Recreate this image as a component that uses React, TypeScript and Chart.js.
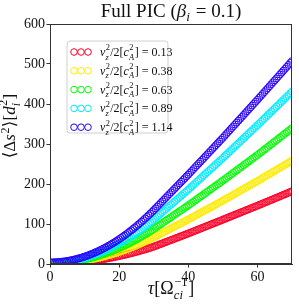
import React, { useEffect, useRef } from "react";
import { Chart, registerables } from "chart.js";

Chart.register(...registerables);

// sample times tau [1/Omega_ci]
const tau = [
  0, 0.5, 1, 1.5, 2, 2.5, 3, 3.5, 4, 4.5, 5, 5.5, 6, 6.5, 7, 7.5, 8, 8.5, 9, 9.5,
  10, 10.5, 11, 11.5, 12, 12.5, 13, 13.5, 14, 14.5, 15, 15.5, 16, 16.5, 17, 17.5, 18, 18.5, 19, 19.5,
  20, 20.5, 21, 21.5, 22, 22.5, 23, 23.5, 24, 24.5, 25, 25.5, 26, 26.5, 27, 27.5, 28, 28.5, 29, 29.5,
  30, 30.5, 31, 31.5, 32, 32.5, 33, 33.5, 34, 34.5, 35, 35.5, 36, 36.5, 37, 37.5, 38, 38.5, 39, 39.5,
  40, 40.5, 41, 41.5, 42, 42.5, 43, 43.5, 44, 44.5, 45, 45.5, 46, 46.5, 47, 47.5, 48, 48.5, 49, 49.5,
  50, 50.5, 51, 51.5, 52, 52.5, 53, 53.5, 54, 54.5, 55, 55.5, 56, 56.5, 57, 57.5, 58, 58.5, 59, 59.5,
  60, 60.5, 61, 61.5, 62, 62.5, 63, 63.5, 64, 64.5, 65, 65.5, 66, 66.5, 67, 67.5, 68, 68.5, 69, 69.5,
  70,
];

// <Δs^2> for v_z^2/2[c_A^2] = 0.13
const msd013 = [
  1.0, 1.0, 1.0, 1.1, 1.2, 1.3, 1.4, 1.6, 1.8, 2.0, 2.2, 2.4, 2.7, 3.0, 3.3, 3.6, 4.0, 4.4, 4.8, 5.2,
  5.7, 6.2, 6.7, 7.2, 7.8, 8.3, 8.9, 9.6, 10.2, 10.9, 11.6, 12.3, 13.0, 13.8, 14.6, 15.4, 16.2, 17.1, 18.0, 18.9,
  19.8, 20.8, 21.7, 22.7, 23.7, 24.8, 25.9, 27.0, 28.1, 29.2, 30.4, 31.6, 32.8, 34.0, 35.3, 36.5, 37.8, 39.2, 40.5, 41.9,
  43.3, 45.0, 46.6, 48.3, 49.9, 51.6, 53.2, 54.9, 56.5, 58.2, 59.8, 61.5, 63.1, 64.8, 66.4, 68.1, 69.7, 71.4, 73.0, 74.7,
  76.3, 78.0, 79.8, 81.5, 83.2, 85.0, 86.7, 88.4, 90.1, 91.9, 93.6, 95.3, 97.0, 98.7, 100.5, 102.2, 103.9, 105.6, 107.4, 109.1,
  110.8, 112.6, 114.3, 116.1, 117.8, 119.6, 121.3, 123.1, 124.8, 126.6, 128.3, 130.1, 131.8, 133.6, 135.3, 137.1, 138.8, 140.6, 142.3, 144.1,
  145.8, 147.6, 149.4, 151.2, 153.0, 154.8, 156.6, 158.4, 160.2, 162.0, 163.8, 165.6, 167.4, 169.2, 171.0, 172.8, 174.6, 176.4, 178.2, 180.0,
  181.8,
];

// <Δs^2> for v_z^2/2[c_A^2] = 0.38
const msd038 = [
  1.5, 1.5, 1.6, 1.7, 1.8, 2.0, 2.1, 2.4, 2.7, 3.0, 3.3, 3.7, 4.1, 4.5, 5.0, 5.6, 6.1, 6.7, 7.3, 8.0,
  8.7, 9.4, 10.2, 11.0, 11.9, 12.8, 13.7, 14.6, 15.6, 16.6, 17.7, 18.8, 19.9, 21.1, 22.3, 23.6, 24.8, 26.1, 27.5, 28.9,
  30.3, 31.8, 33.3, 34.8, 36.3, 37.9, 39.6, 41.3, 43.0, 44.7, 46.5, 48.3, 50.2, 52.1, 54.0, 55.9, 57.9, 60.0, 62.1, 64.2,
  66.3, 68.6, 70.8, 73.1, 75.3, 77.6, 79.8, 82.1, 84.3, 86.6, 88.8, 91.1, 93.3, 95.6, 97.8, 100.1, 102.3, 104.6, 106.8, 109.1,
  111.3, 113.7, 116.0, 118.4, 120.7, 123.1, 125.4, 127.8, 130.1, 132.5, 134.8, 137.2, 139.5, 141.9, 144.2, 146.6, 148.9, 151.3, 153.6, 156.0,
  158.3, 160.8, 163.2, 165.7, 168.1, 170.6, 173.0, 175.5, 177.9, 180.4, 182.8, 185.3, 187.7, 190.2, 192.6, 195.1, 197.5, 200.0, 202.4, 204.9,
  207.3, 209.9, 212.4, 215.0, 217.5, 220.1, 222.6, 225.2, 227.7, 230.3, 232.8, 235.4, 237.9, 240.5, 243.0, 245.6, 248.1, 250.7, 253.2, 255.8,
  258.3,
];

// <Δs^2> for v_z^2/2[c_A^2] = 0.63
const msd063 = [
  2.0, 2.0, 2.1, 2.2, 2.4, 2.6, 2.9, 3.2, 3.5, 3.9, 4.4, 4.9, 5.4, 6.0, 6.7, 7.3, 8.1, 8.9, 9.7, 10.6,
  11.5, 12.5, 13.5, 14.6, 15.7, 16.8, 18.1, 19.3, 20.6, 22.0, 23.4, 24.8, 26.3, 27.9, 29.5, 31.1, 32.8, 34.5, 36.3, 38.1,
  40.0, 41.9, 43.9, 45.9, 48.0, 50.1, 52.3, 54.5, 56.7, 59.0, 61.4, 63.8, 66.2, 68.7, 71.3, 73.8, 76.5, 79.2, 81.9, 84.7,
  87.5, 90.5, 93.4, 96.4, 99.3, 102.3, 105.2, 108.2, 111.1, 114.1, 117.0, 120.0, 122.9, 125.9, 128.8, 131.8, 134.7, 137.7, 140.6, 143.6,
  146.5, 149.6, 152.7, 155.8, 158.9, 162.0, 165.1, 168.2, 171.3, 174.4, 177.5, 180.6, 183.7, 186.8, 189.9, 193.0, 196.1, 199.2, 202.3, 205.4,
  208.5, 211.7, 214.9, 218.1, 221.3, 224.5, 227.7, 230.9, 234.1, 237.3, 240.5, 243.7, 246.9, 250.1, 253.3, 256.5, 259.7, 262.9, 266.1, 269.3,
  272.5, 275.9, 279.2, 282.6, 285.9, 289.3, 292.6, 296.0, 299.3, 302.7, 306.0, 309.4, 312.7, 316.1, 319.4, 322.8, 326.1, 329.5, 332.8, 336.2,
  339.5,
];

// <Δs^2> for v_z^2/2[c_A^2] = 0.89
const msd089 = [
  3.0, 3.0, 3.1, 3.3, 3.5, 3.8, 4.1, 4.5, 4.9, 5.4, 6.0, 6.6, 7.3, 8.1, 8.9, 9.8, 10.7, 11.7, 12.7, 13.8,
  15.0, 16.2, 17.5, 18.9, 20.3, 21.8, 23.3, 24.9, 26.5, 28.2, 30.0, 31.8, 33.7, 35.7, 37.7, 39.8, 41.9, 44.1, 46.3, 48.6,
  51.0, 53.4, 55.9, 58.5, 61.1, 63.8, 66.5, 69.3, 72.1, 75.0, 78.0, 81.0, 84.1, 87.3, 90.5, 93.8, 97.1, 100.5, 103.9, 107.4,
  111.0, 114.8, 118.5, 122.3, 126.0, 129.8, 133.5, 137.3, 141.0, 144.8, 148.5, 152.3, 156.0, 159.8, 163.5, 167.3, 171.0, 174.8, 178.5, 182.3,
  186.0, 190.0, 193.9, 197.9, 201.8, 205.8, 209.7, 213.7, 217.6, 221.6, 225.5, 229.5, 233.4, 237.4, 241.3, 245.3, 249.2, 253.2, 257.1, 261.1,
  265.0, 269.1, 273.2, 277.3, 281.4, 285.5, 289.6, 293.7, 297.8, 301.9, 306.0, 310.1, 314.2, 318.3, 322.4, 326.5, 330.6, 334.7, 338.8, 342.9,
  347.0, 351.2, 355.4, 359.6, 363.8, 368.0, 372.2, 376.4, 380.6, 384.8, 389.0, 393.2, 397.4, 401.6, 405.8, 410.0, 414.2, 418.4, 422.6, 426.8,
  431.0,
];

// <Δs^2> for v_z^2/2[c_A^2] = 1.14
const msd114 = [
  4.0, 4.0, 4.1, 4.3, 4.6, 4.9, 5.3, 5.8, 6.3, 6.9, 7.6, 8.4, 9.2, 10.1, 11.1, 12.2, 13.3, 14.5, 15.7, 17.1,
  18.5, 20.0, 21.5, 23.2, 24.9, 26.7, 28.5, 30.4, 32.4, 34.5, 36.6, 38.8, 41.1, 43.5, 45.9, 48.4, 51.0, 53.6, 56.3, 59.1,
  62.0, 64.9, 67.9, 71.0, 74.2, 77.4, 80.7, 84.1, 87.5, 91.0, 94.6, 98.3, 102.0, 105.8, 109.7, 113.7, 117.7, 121.8, 126.0, 130.2,
  134.5, 139.0, 143.4, 147.9, 152.3, 156.8, 161.2, 165.7, 170.1, 174.6, 179.0, 183.5, 187.9, 192.4, 196.8, 201.3, 205.7, 210.2, 214.6, 219.1,
  223.5, 228.1, 232.7, 237.3, 241.9, 246.5, 251.1, 255.7, 260.3, 264.9, 269.5, 274.1, 278.7, 283.3, 287.9, 292.5, 297.1, 301.7, 306.3, 310.9,
  315.5, 320.3, 325.0, 329.8, 334.5, 339.3, 344.0, 348.8, 353.5, 358.3, 363.0, 367.8, 372.5, 377.3, 382.0, 386.8, 391.5, 396.3, 401.0, 405.8,
  410.5, 415.4, 420.2, 425.1, 429.9, 434.8, 439.6, 444.5, 449.3, 454.2, 459.0, 463.9, 468.7, 473.6, 478.4, 483.3, 488.1, 493.0, 497.8, 502.7,
  507.5,
];

const seriesValues = [msd013, msd038, msd063, msd089, msd114];
const legendValues = ["0.13", "0.38", "0.63", "0.89", "1.14"];
const seriesColors = ["#ff0029", "#ffeb00", "#00ff00", "#00ebff", "#2900ff"];
const xTicks = [0, 20, 40, 60];
const yTicks = [0, 100, 200, 300, 400, 500, 600];

type Run = { t?: string; it?: boolean; sup?: string; sub?: string; subIt?: boolean; supIt?: boolean };

const FAM = '"Liberation Serif", "DejaVu Serif", serif';
const fnt = (size: number, it?: boolean) => `${it ? "italic " : ""}${size}px ${FAM}`;

function measureRuns(ctx: CanvasRenderingContext2D, runs: Run[], size: number) {
  let w = 0;
  for (const r of runs) {
    if (r.t !== undefined) {
      ctx.font = fnt(size, r.it);
      w += ctx.measureText(r.t).width;
    } else {
      const s = size * 0.7;
      let a = 0, b = 0;
      if (r.sup) { ctx.font = fnt(s, r.supIt); a = ctx.measureText(r.sup).width; }
      if (r.sub) { ctx.font = fnt(s, r.subIt); b = ctx.measureText(r.sub).width; }
      w += Math.max(a, b) + size * 0.06;
    }
  }
  return w;
}

function drawRuns(ctx: CanvasRenderingContext2D, runs: Run[], x: number, y: number, size: number) {
  ctx.textAlign = "left";
  ctx.textBaseline = "alphabetic";
  let cx = x;
  for (const r of runs) {
    if (r.t !== undefined) {
      ctx.font = fnt(size, r.it);
      ctx.fillText(r.t, cx, y);
      cx += ctx.measureText(r.t).width;
    } else {
      const s = size * 0.7;
      let a = 0, b = 0;
      const both = !!(r.sup && r.sub);
      if (r.sup) {
        ctx.font = fnt(s, r.supIt);
        ctx.fillText(r.sup, cx + size * 0.03, y - size * (both ? 0.46 : 0.38));
        a = ctx.measureText(r.sup).width;
      }
      if (r.sub) {
        ctx.font = fnt(s, r.subIt);
        ctx.fillText(r.sub, cx + size * 0.01, y + size * (both ? 0.3 : 0.22));
        b = ctx.measureText(r.sub).width;
      }
      cx += Math.max(a, b) + size * 0.06;
    }
  }
}

const titleRuns: Run[] = [{ t: "Full PIC (" }, { t: "β", it: true }, { sub: "i", subIt: true }, { t: " = 0.1)" }];
const xLabelRuns: Run[] = [{ t: "τ", it: true }, { t: "[Ω" }, { sup: "−1", sub: "ci", subIt: true }, { t: "]" }];
const yLabelRuns: Run[] = [
  { t: "⟨Δ" }, { t: "s", it: true }, { sup: "2" }, { t: "⟩[" }, { t: "d", it: true }, { sup: "2", sub: "i", subIt: true }, { t: "]" },
];
const legendRuns = (v: string): Run[] => [
  { t: "v", it: true }, { sup: "2", sub: "z", subIt: true }, { t: "/2[" }, { t: "c", it: true },
  { sup: "2", sub: "A", subIt: true }, { t: "] = " + v },
];

const decorPlugin = {
  id: "decor",
  afterDraw(chart: any) {
    const ctx: CanvasRenderingContext2D = chart.ctx;
    const { left, right, top, bottom } = chart.chartArea;
    ctx.save();
    // frame
    ctx.strokeStyle = "#333";
    ctx.lineWidth = 1;
    ctx.strokeRect(Math.round(left) + 0.5, Math.round(top) + 0.5, Math.round(right - left) - 1, Math.round(bottom - top) - 1);
    ctx.fillStyle = "#111";
    // title
    const cx = (left + right) / 2;
    let w = measureRuns(ctx, titleRuns, 19);
    drawRuns(ctx, titleRuns, cx - w / 2, 17, 19);
    // x label
    w = measureRuns(ctx, xLabelRuns, 18);
    drawRuns(ctx, xLabelRuns, cx - w / 2, 294, 18);
    // y label
    w = measureRuns(ctx, yLabelRuns, 17);
    ctx.save();
    ctx.translate(15, 126);
    ctx.rotate(-Math.PI / 2);
    drawRuns(ctx, yLabelRuns, -w / 2, 0, 17);
    ctx.restore();
    // legend
    const bx = 67, by = 41, bw = 101, bh = 92, rad = 3;
    ctx.beginPath();
    ctx.moveTo(bx + rad, by);
    ctx.arcTo(bx + bw, by, bx + bw, by + bh, rad);
    ctx.arcTo(bx + bw, by + bh, bx, by + bh, rad);
    ctx.arcTo(bx, by + bh, bx, by, rad);
    ctx.arcTo(bx, by, bx + bw, by, rad);
    ctx.closePath();
    ctx.fillStyle = "rgba(255,255,255,0.85)";
    ctx.fill();
    ctx.strokeStyle = "#d0d0d0";
    ctx.stroke();
    for (let i = 0; i < legendValues.length; i++) {
      const ry = 52 + i * 18.8;
      ctx.strokeStyle = seriesColors[i];
      ctx.lineWidth = 1;
      for (const mx of [74, 81, 88]) {
        ctx.beginPath();
        ctx.arc(mx, ry, 3.3, 0, Math.PI * 2);
        ctx.stroke();
      }
      ctx.fillStyle = "#111";
      drawRuns(ctx, legendRuns(legendValues[i]), 100, ry + 4, 12);
    }
    ctx.restore();
  },
};

export default function App() {
  const ref = useRef<HTMLCanvasElement>(null);
  useEffect(() => {
    if (!ref.current) return;
    const datasets = seriesValues.map((vals, i) => ({
      label: legendValues[i],
      data: tau.map((t, k) => ({ x: t, y: vals[k] })),
      borderColor: seriesColors[i],
      backgroundColor: "rgba(0,0,0,0)",
      pointRadius: 3.5,
      pointBorderWidth: 1,
      showLine: false,
      order: seriesValues.length - 1 - i,
      clip: 0,
    }));
    const tickFont = { family: FAM, size: 14 };
    const chart = new Chart(ref.current, {
      type: "scatter",
      data: { datasets },
      plugins: [decorPlugin],
      options: {
        animation: false,
        responsive: false,
        events: [],
        layout: { padding: { top: 24, right: 7, left: 0, bottom: 0 } },
        plugins: { legend: { display: false }, tooltip: { enabled: false }, title: { display: false } },
        scales: {
          x: {
            type: "linear",
            min: 0,
            max: 70,
            afterFit: (s: any) => { s.height = 44; },
            afterBuildTicks: (s: any) => { s.ticks = xTicks.map((v) => ({ value: v })); },
            ticks: { color: "#111", font: tickFont, padding: 1, maxRotation: 0 },
            grid: { display: true, drawOnChartArea: false, drawTicks: true, tickLength: 3.5, color: "#333" },
            border: { display: true, color: "#333", width: 1 },
          },
          y: {
            type: "linear",
            min: 0,
            max: 600,
            afterFit: (s: any) => { s.width = 50; },
            afterBuildTicks: (s: any) => { s.ticks = yTicks.map((v) => ({ value: v })); },
            ticks: { color: "#111", font: tickFont, padding: 1.5 },
            grid: { display: true, drawOnChartArea: false, drawTicks: true, tickLength: 3.5, color: "#333" },
            border: { display: true, color: "#333", width: 1 },
          },
        },
      } as any,
    });
    return () => chart.destroy();
  }, []);
  return (
    <div style={{ position: "absolute", left: 0, top: 0, width: 299, height: 308, background: "#fff" }}>
      <canvas ref={ref} width={299} height={308} style={{ display: "block" }} />
    </div>
  );
}
